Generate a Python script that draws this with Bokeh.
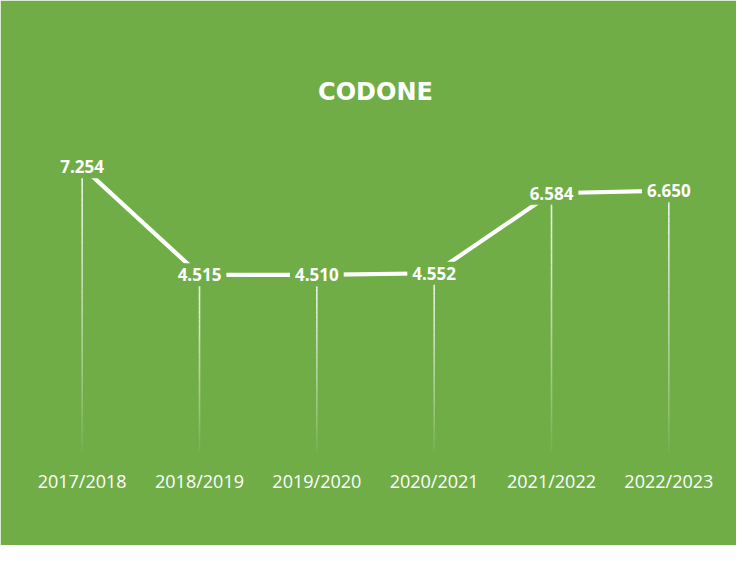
import numpy as np
from bokeh.plotting import figure
from bokeh.models import ColumnDataSource, FactorRange, Range1d
from bokeh.embed import file_html
from bokeh.resources import INLINE
from bokeh.core.properties import value

seasons = ["2017/2018", "2018/2019", "2019/2020", "2020/2021", "2021/2022", "2022/2023"]
values = [7254, 4515, 4510, 4552, 6584, 6650]
labels = ["7.254", "4.515", "4.510", "4.552", "6.584", "6.650"]

BG = "#70AD47"
FONT = "Open Sans"

p = figure(x_range=FactorRange(*seasons), y_range=Range1d(0, 8000),
           width=736, height=545, output_backend="svg", toolbar_location=None,
           min_border_left=23, min_border_right=9, min_border_top=137, min_border_bottom=93,
           background_fill_color=BG, border_fill_color=BG)
p.outline_line_color = BG
p.outline_line_width = 3

# fading drop lines
n = 40
dx, dy0, dy1, da = [], [], [], []
for s, v in zip(seasons, values):
    for k in range(n):
        dx.append(s)
        dy0.append(v * (1 - k / n))
        dy1.append(v * (1 - (k + 1) / n))
        da.append(0.9 * (1 - k / n) ** 0.8)
p.segment(x0=dx, x1=dx, y0=dy0, y1=dy1, line_color="white", line_alpha=da, line_width=1.6)

src = ColumnDataSource(dict(x=seasons, y=values, label=labels))
p.line("x", "y", source=src, line_color="white", line_width=4.2)
p.text("x", "y", text="label", source=src, text_align="center", text_baseline="middle",
       text_color="white", text_font=value(FONT), text_font_style="bold", text_font_size="17px",
       background_fill_color=BG, padding=5)

p.title.text = "CODONE"
p.title.align = "center"
p.title.text_color = "white"
p.title.text_font = "DejaVu Sans"
p.title.text_font_size = "24px"
p.title.text_font_style = "bold"
p.title.standoff = 64

p.yaxis.visible = False
p.xgrid.grid_line_color = None
p.ygrid.grid_line_color = None
p.xaxis.axis_line_color = None
p.xaxis.major_tick_line_color = None
p.xaxis.minor_tick_line_color = None
p.xaxis.major_label_text_color = "white"
p.xaxis.major_label_text_font = FONT
p.xaxis.major_label_text_font_size = "18px"
p.xaxis.major_label_standoff = 10

open("out.html", "w").write(file_html(p, INLINE))
